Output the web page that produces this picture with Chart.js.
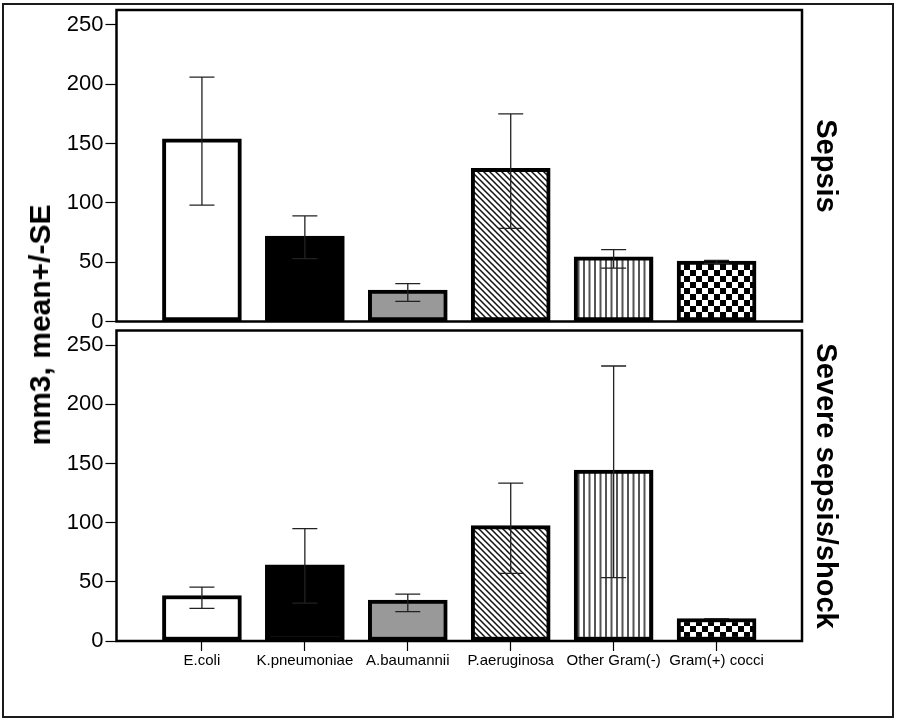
<!DOCTYPE html>
<html><head><meta charset="utf-8">
<script src="https://cdn.jsdelivr.net/npm/chart.js@4/dist/chart.umd.min.js"></script>
<style>
html,body{margin:0;padding:0;background:#fff;}
#page{position:relative;width:899px;height:720px;overflow:hidden;font-family:"Liberation Sans",Arial,sans-serif;background:#fff;}
#frame{position:absolute;left:2px;top:3px;width:892px;height:715px;box-sizing:border-box;border:2.5px solid #1a1a1a;}
.wrap{position:absolute;left:0;width:899px;}
#wA{top:0;height:335px;}
#wB{top:320px;height:400px;}
.rot{position:absolute;white-space:nowrap;line-height:1;font-weight:bold;color:#000;}
#ytitle{left:39.5px;top:325px;font-size:30px;transform:translate(-50%,-50%) rotate(-90deg);}
#lab1{left:826px;top:166px;font-size:29px;transform:translate(-50%,-50%) rotate(90deg);}
#lab2{left:826px;top:486px;font-size:29px;transform:translate(-50%,-50%) rotate(90deg);}
</style></head>
<body>
<div id="page">
  <div id="frame"></div>
  <div class="wrap" id="wA"><canvas id="cA"></canvas></div>
  <div class="wrap" id="wB"><canvas id="cB"></canvas></div>
  <div class="rot" id="ytitle">mm3, mean+/-SE</div>
  <div class="rot" id="lab1">Sepsis</div>
  <div class="rot" id="lab2">Severe sepsis/shock</div>
</div>
<script>
// ---- data ----
const categories = ["E.coli", "K.pneumoniae", "A.baumannii", "P.aeruginosa", "Other Gram(-)", "Gram(+) cocci"];
const yTicks = [0, 50, 100, 150, 200, 250];
const sepsisMean  = [154, 72, 26.5, 129, 54.5, 51];
const sepsisUpper = [206, 89, 32, 175, 60.5, 51.5];
const sepsisLower = [98, 53, 17, 78.5, 45, 49];
const severeMean  = [38.5, 64.5, 34.5, 97.5, 144.5, 19];
const severeUpper = [45.6, 95, 39.7, 133.4, 232.5, 19];
const severeLower = [27.6, 32, 24.8, 57.2, 53.5, 19];

// ---- fill patterns ----
function tile(w, h, draw) {
  const c = document.createElement('canvas');
  c.width = w; c.height = h;
  const g = c.getContext('2d');
  g.fillStyle = '#fff'; g.fillRect(0, 0, w, h);
  draw(g);
  return g.createPattern(c, 'repeat');
}
function fills() {
  const diag = tile(6, 6, g => {
    g.strokeStyle = '#111'; g.lineWidth = 1.5;
    g.beginPath();
    g.moveTo(-1, -1); g.lineTo(7, 7);
    g.moveTo(-7, -1); g.lineTo(1, 7);
    g.moveTo(5, -1); g.lineTo(13, 7);
    g.stroke();
  });
  const vert = tile(11, 4, g => {
    g.fillStyle = '#555';
    g.fillRect(0, 0, 2, 4);
    g.fillRect(5.5, 0, 2, 4);
  });
  const check = tile(12, 12, g => {
    g.fillStyle = '#000';
    g.fillRect(0, 0, 6, 6);
    g.fillRect(6, 6, 6, 6);
  });
  return ['#ffffff', '#000000', '#999999', diag, vert, check];
}

const errPlugin = {
  id: 'err',
  afterDatasetsDraw(chart, args, o) {
    const {ctx} = chart, x = chart.scales.x, y = chart.scales.y;
    ctx.save();
    ctx.strokeStyle = '#222'; ctx.lineWidth = 1.3;
    o.upper.forEach((u, i) => {
      const cx = x.getPixelForValue(i);
      const yu = y.getPixelForValue(u), yl = y.getPixelForValue(o.lower[i]);
      const h = 12.5;
      ctx.beginPath();
      ctx.moveTo(cx, yu); ctx.lineTo(cx, yl);
      ctx.moveTo(cx - h, yu); ctx.lineTo(cx + h, yu);
      ctx.moveTo(cx - h, yl); ctx.lineTo(cx + h, yl);
      ctx.stroke();
    });
    ctx.restore();
  }
};
const framePlugin = {
  id: 'frameBox',
  afterDatasetsDraw(chart) {
    const {ctx, chartArea: a} = chart;
    ctx.save();
    ctx.strokeStyle = '#000'; ctx.lineWidth = 2.5;
    ctx.strokeRect(a.left, a.top, a.right - a.left, a.bottom - a.top);
    ctx.restore();
  }
};

const FONT = '"Liberation Sans", Arial, sans-serif';

function makeChart(id, means, upper, lower, showX, padTop, padBottom) {
  return new Chart(document.getElementById(id), {
    type: 'bar',
    data: {
      datasets: [{
        data: means.map((v, i) => ({x: i, y: v})),
        backgroundColor: fills(),
        borderColor: '#000',
        borderWidth: 4,
        borderSkipped: false,
        barThickness: 79
      }]
    },
    options: {
      responsive: true,
      maintainAspectRatio: false,
      animation: false,
      events: [],
      layout: {padding: {left: 0, right: 97, top: padTop, bottom: padBottom}},
      plugins: {
        legend: {display: false},
        tooltip: {enabled: false},
        err: {upper: upper, lower: lower}
      },
      scales: {
        x: {
          type: 'linear',
          display: showX,
          offset: false,
          min: -0.83,
          max: 5.83,
          afterFit: s => { if (showX) { s.height = 79; } s.paddingLeft = 0; s.paddingRight = 0; },
          afterBuildTicks: s => { s.ticks = categories.map((c, i) => ({value: i})); },
          ticks: {
            autoSkip: false,
            maxRotation: 0,
            padding: 1,
            color: '#000',
            font: {family: FONT, size: 15},
            callback: (v, i) => categories[i]
          },
          grid: {offset: false, drawOnChartArea: false, drawTicks: true, tickLength: 10, tickColor: '#000', tickWidth: 1.2},
          border: {display: false}
        },
        y: {
          min: 0,
          max: 262.5,
          afterFit: s => { s.width = 116.5; s.paddingTop = 0; s.paddingBottom = 0; },
          afterBuildTicks: s => { s.ticks = yTicks.map(v => ({value: v})); },
          ticks: {
            padding: 2,
            color: '#000',
            font: {family: FONT, size: 22}
          },
          grid: {drawOnChartArea: false, drawTicks: true, tickLength: 11, tickColor: '#000', tickWidth: 1.2},
          border: {display: false}
        }
      }
    },
    plugins: [errPlugin, framePlugin]
  });
}

makeChart('cA', sepsisMean, sepsisUpper, sepsisLower, false, 10, 13.5);
makeChart('cB', severeMean, severeUpper, severeLower, true, 10.5, 0);
</script>
</body></html>
